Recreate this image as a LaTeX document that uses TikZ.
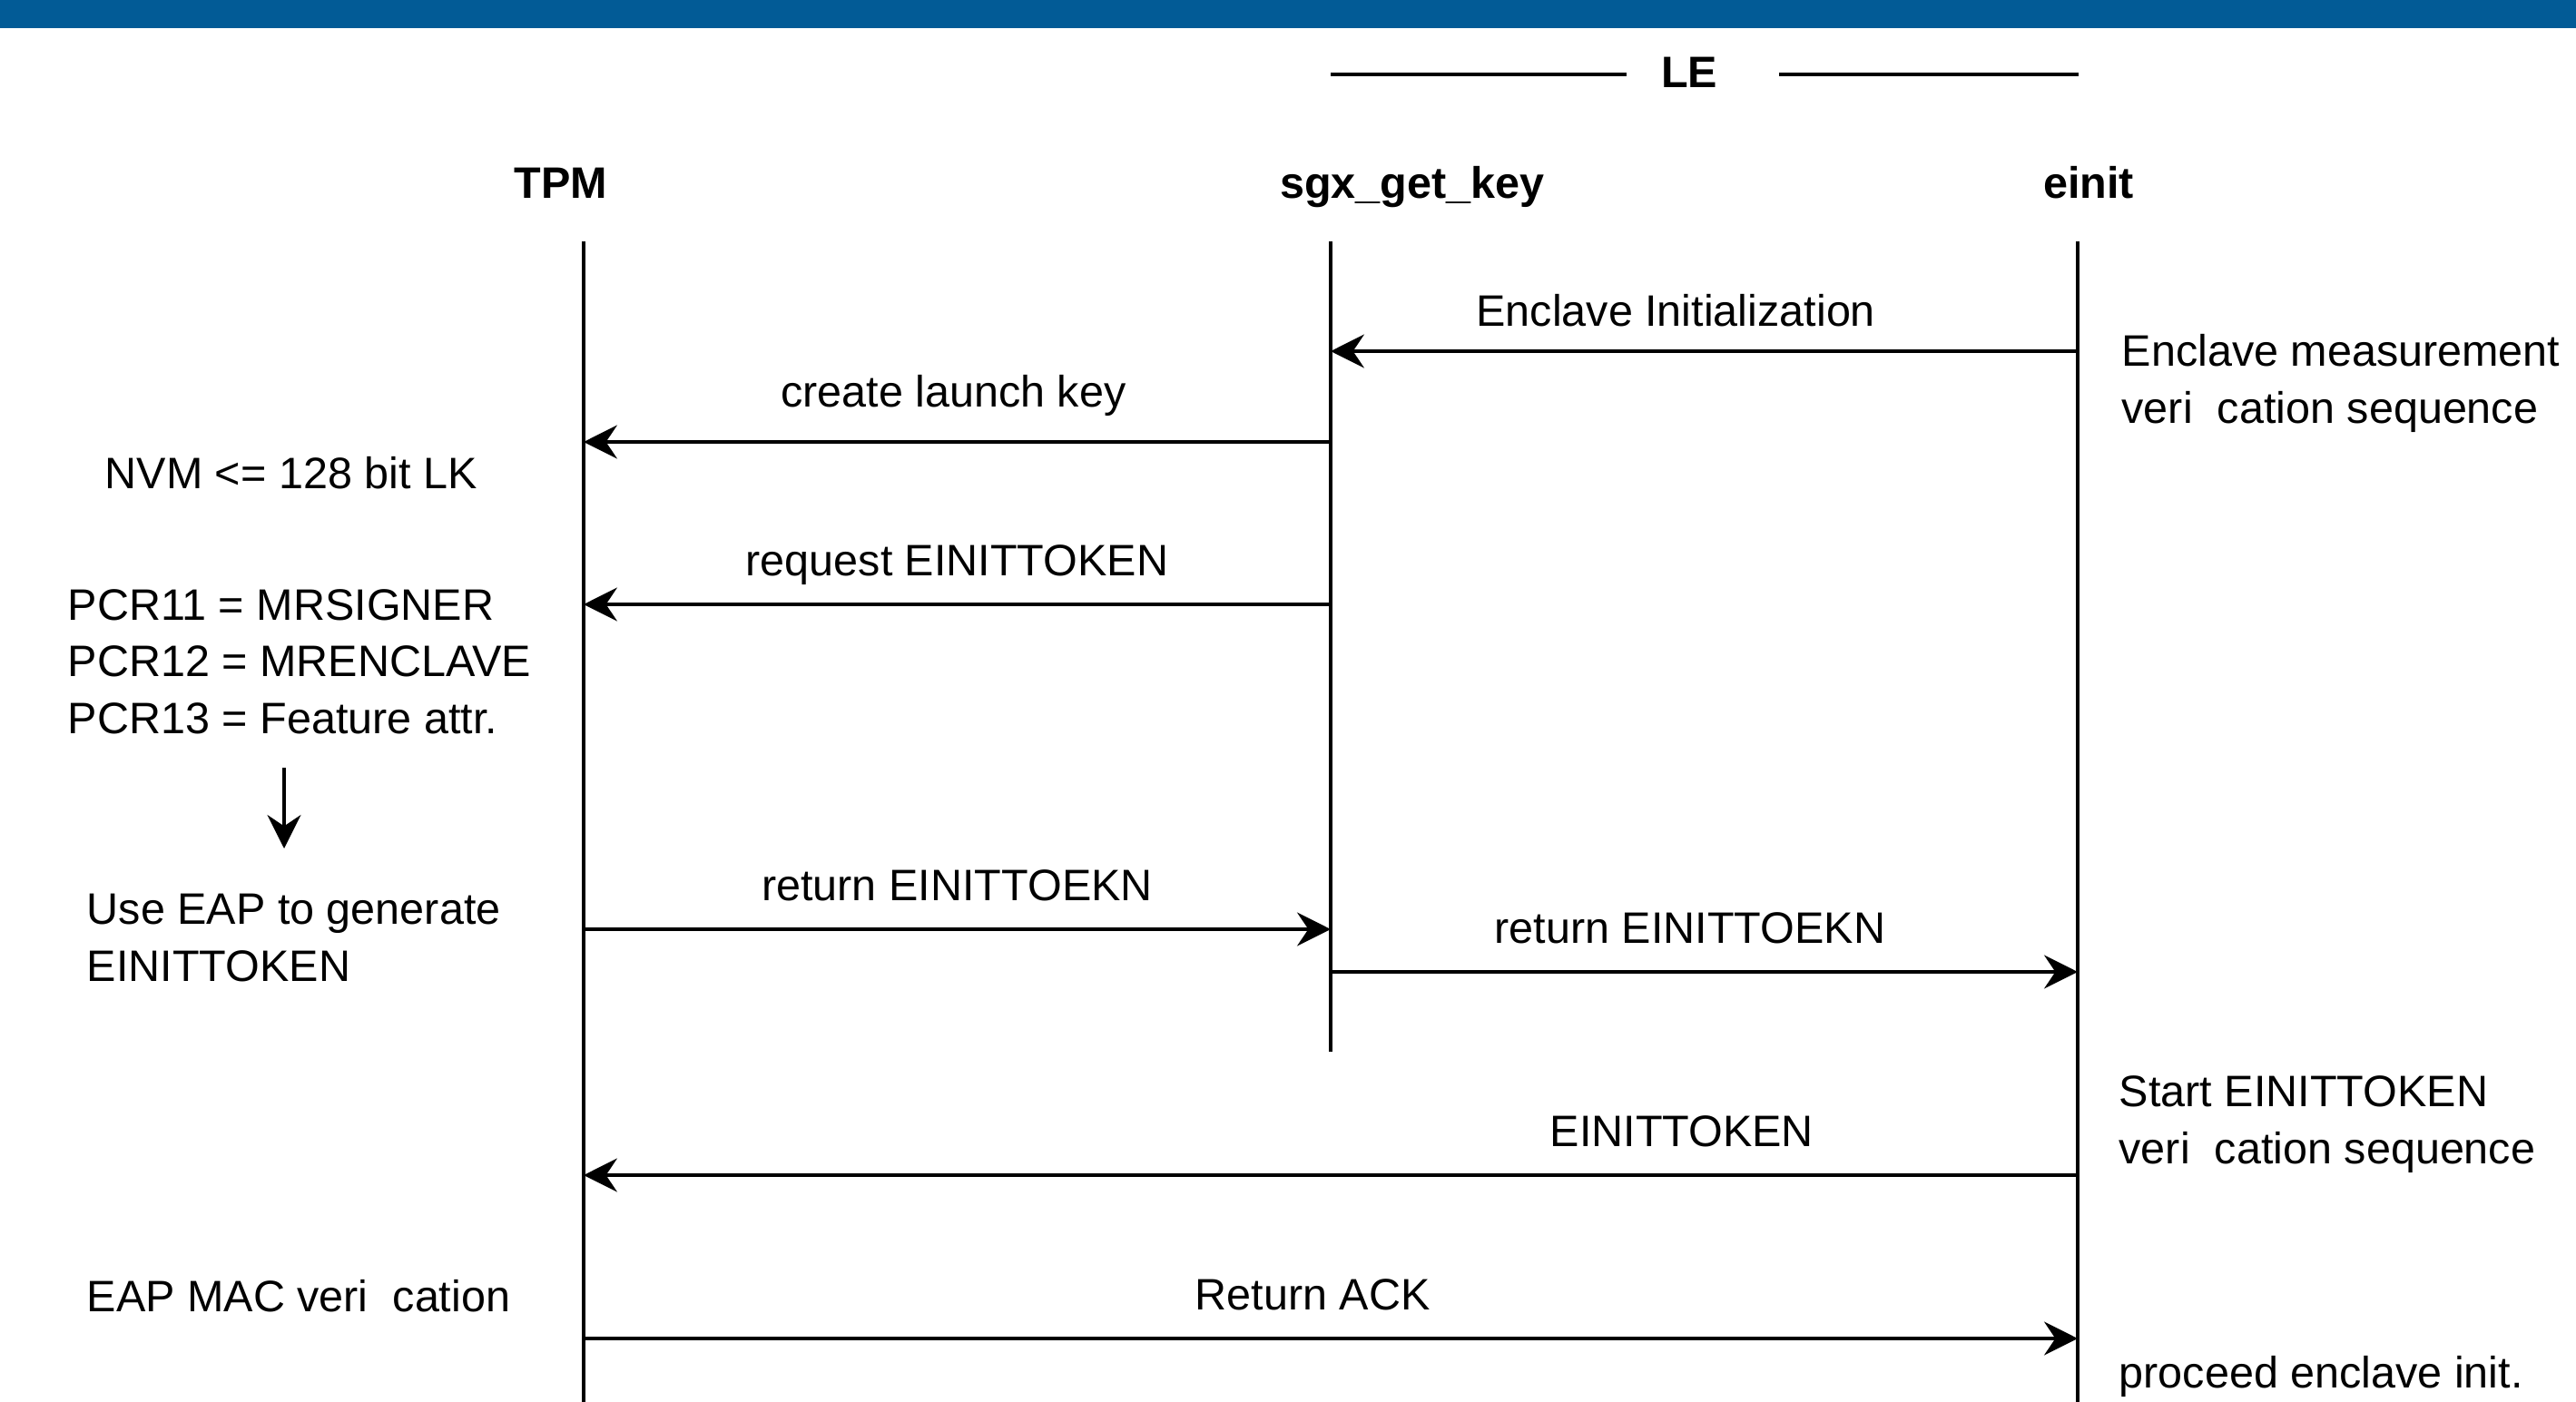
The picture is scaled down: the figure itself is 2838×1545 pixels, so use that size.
\documentclass[tikz,border=0pt]{standalone}
\usepackage{fontspec}
\setmainfont{Liberation Sans}
\usetikzlibrary{arrows.meta}
\definecolor{barblue}{RGB}{2,91,150}

\begin{document}
\begin{tikzpicture}[x=0.01cm, y=-0.01cm,
    every node/.style={inner sep=0pt, font=\fontsize{13.8}{17.64}\selectfont},
    head/.style={anchor=base, font=\fontsize{13.8}{17.64}\selectfont\bfseries},
    note/.style={anchor=base west, align=left},
    msg/.style={anchor=base, yshift=0.31cm},
    life/.style={line width=0.9pt},
    call/.style={line width=1.1pt, -{Stealth[length=10.5pt, width=10.5pt, inset=3.5pt]}}]
    \useasboundingbox (0,0) rectangle (2838,1545);
    \fill[barblue] (0,0) rectangle (2838,31);

    % participants
    \node[head] (le) at (1861,96) {LE};
    \node[head] (tpm) at (618,218) {TPM};
    \node[head] (sgx) at (1556,218) {sgx\_get\_key};
    \node[head] (einit) at (2301,218) {einit};
    \draw[life] (1466,82) -- (1792,82);
    \draw[life] (1960,82) -- (2290,82);

    % lifelines
    \coordinate (tpm top) at (643,266);
    \coordinate (tpm end) at (643,1545);
    \coordinate (sgx top) at (1466,266);
    \coordinate (sgx end) at (1466,1159);
    \coordinate (einit top) at (2289,266);
    \coordinate (einit end) at (2289,1545);
    \draw[life] (tpm top) -- (tpm end);
    \draw[life] (sgx top) -- (sgx end);
    \draw[life] (einit top) -- (einit end);

    % messages
    \draw[call] (einit top |- 0,387) -- node[msg, pos=0.538, yshift=-0.04cm] {Enclave Initialization} (sgx top |- 0,387);
    \draw[call] (sgx top |- 0,487) -- node[msg, pos=0.505, yshift=0.07cm] {create launch key} (tpm top |- 0,487);
    \draw[call] (sgx top |- 0,666) -- node[msg, pos=0.5] {request EINITTOKEN} (tpm top |- 0,666);
    \draw[call] (tpm top |- 0,1024) -- node[msg, pos=0.5] {return EINITTOEKN} (sgx top |- 0,1024);
    \draw[call] (sgx top |- 0,1071) -- node[msg, pos=0.481] {return EINITTOEKN} (einit top |- 0,1071);
    \draw[call] (einit top |- 0,1295) -- node[msg, pos=0.265] {EINITTOKEN} (tpm top |- 0,1295);
    \draw[call] (tpm top |- 0,1475) -- node[msg, pos=0.488] {Return ACK} (einit top |- 0,1475);

    % TPM side notes
    \node[note] (nvm) at (115,538) {NVM <{}= 128 bit LK};
    \node[note] (pcr) at (74,808) {PCR11 = MRSIGNER\\PCR12 = MRENCLAVE\\PCR13 = Feature attr.};
    \node[note] (eap) at (95,1081) {Use EAP to generate\\EINITTOKEN};
    \node[note] (mac) at (95,1445) {EAP MAC veri\ \ cation};
    \coordinate (gen top) at (313,846);
    \coordinate (gen end) at (313,935);
    \draw[call] (gen top) -- (gen end);

    % einit side notes
    \node[note] (meas) at (2337,466) {Enclave measurement\\veri\ \ cation sequence};
    \node[note] (start) at (2334,1282) {Start EINITTOKEN\\veri\ \ cation sequence};
    \node[note] (proceed) at (2334,1529) {proceed enclave init.};
\end{tikzpicture}
\end{document}
